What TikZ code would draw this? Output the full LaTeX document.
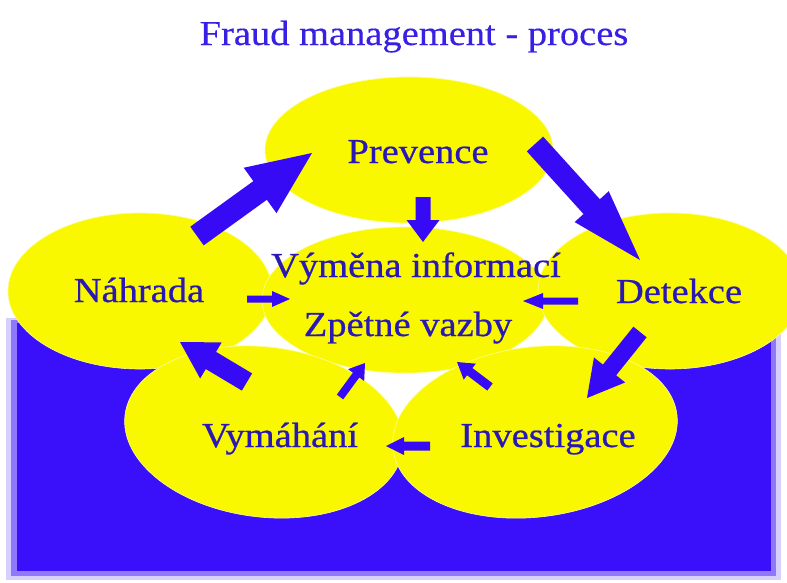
\documentclass[tikz,border=0pt]{standalone}
\usepackage{fontspec}
\setmainfont{Liberation Serif}
\newfontfamily\widefont[FakeStretch=1.1,FakeBold=0.6]{Liberation Serif}
\newfontfamily\titlefont[FakeStretch=1.1,FakeBold=0.3]{Liberation Serif}
\usetikzlibrary{calc}
\definecolor{bgblue}{RGB}{58,16,250}
\definecolor{arrblue}{RGB}{55,10,245}
\definecolor{yel}{RGB}{250,248,0}
\definecolor{edgeyel}{RGB}{252,252,150}
\definecolor{txtblue}{RGB}{42,24,180}
\definecolor{ttlblue}{RGB}{55,32,228}
\newcommand\blockarr[5]{%
  \coordinate (bah) at ($(#2)!#5!(#1)$);
  \fill[arrblue] ($(#1)!#3!90:(#2)$) -- ($(bah)!#3!90:(#2)$) -- ($(bah)!#4!90:(#2)$) -- (#2)
    -- ($(bah)!#4!-90:(#2)$) -- ($(bah)!#3!-90:(#2)$) -- ($(#1)!#3!-90:(#2)$) -- cycle;}
\tikzset{
  lbl/.style={text=txtblue, font=\widefont\fontsize{35}{40}\selectfont, anchor=base, inner sep=0pt},
  ttl/.style={text=ttlblue, font=\titlefont\fontsize{35}{40}\selectfont, anchor=base, inner sep=0pt},
  blob/.style={fill=yel, draw=edgeyel, line width=0.6pt}
}
\begin{document}
\begin{tikzpicture}[x=1pt,y=1pt]
\useasboundingbox (0,0) rectangle (787,-582);
\fill[white] (0,0) rectangle (787,-582);
% blue ground with soft edge
\fill[bgblue, opacity=0.2] (6,-318) rectangle (781,-580);
\fill[bgblue, opacity=0.45] (11,-320) rectangle (776,-576);
\fill[bgblue] (17,-323) rectangle (771,-571);
% white inner gaps
\fill[white] (175,-305) -- (290,-410) -- (400,-455) -- (510,-410) -- (635,-305) -- (405,-200) -- cycle;
% ellipses
\path[blob] (409,-150) ellipse [x radius=144pt, y radius=73pt];
\path[blob] (140,-291) ellipse [x radius=132pt, y radius=78pt];
\path[blob] (405,-300) ellipse [x radius=143pt, y radius=73pt];
\path[blob] (670,-291) ellipse [x radius=132pt, y radius=78pt];
\path[blob, rotate around={-7:(264,-432)}] (264,-432) ellipse [x radius=140pt, y radius=85pt];
\path[blob, rotate around={7:(535,-432)}] (535,-432) ellipse [x radius=143pt, y radius=85pt];
% title and labels
\node[ttl] (title) at (414,-45) {Fraud management - proces};
\node[lbl] (prev) at (418,-163) {Prevence};
\node[lbl] (vym) at (416,-277) {Výměna informací};
\node[lbl] (zpet) at (408,-336) {Zpětné vazby};
\node[lbl] (nahr) at (139,-302) {Náhrada};
\node[lbl] (det) at (679,-303) {Detekce};
\node[lbl] (vymah) at (280,-447) {Vymáhání};
\node[lbl] (inv) at (548,-447) {Investigace};
% arrow end points
\coordinate (a1t) at (197,-236); \coordinate (a1h) at (312,-153);
\coordinate (a2t) at (535,-144); \coordinate (a2h) at (640,-260);
\coordinate (a3t) at (423,-197); \coordinate (a3h) at (423,-242);
\coordinate (a4t) at (247,-299); \coordinate (a4h) at (290,-299);
\coordinate (a5t) at (578,-301); \coordinate (a5h) at (523,-301);
\coordinate (a6t) at (640,-332); \coordinate (a6h) at (587,-398);
\coordinate (a7t) at (430,-446); \coordinate (a7h) at (386,-446);
\coordinate (a8t) at (247,-382); \coordinate (a8h) at (180,-342);
\coordinate (a9t) at (340,-397); \coordinate (a9h) at (365,-363);
\coordinate (a10t) at (490,-387); \coordinate (a10h) at (457,-362);
\blockarr{a1t}{a1h}{11.5pt}{28pt}{64pt}
\blockarr{a2t}{a2h}{11pt}{23pt}{72pt}
\blockarr{a3t}{a3h}{7.5pt}{16.5pt}{22pt}
\blockarr{a4t}{a4h}{3.5pt}{8pt}{18pt}
\blockarr{a5t}{a5h}{3.5pt}{8pt}{20pt}
\blockarr{a6t}{a6h}{8.5pt}{20pt}{36pt}
\blockarr{a7t}{a7h}{4.5pt}{9pt}{18pt}
\blockarr{a8t}{a8h}{10pt}{21pt}{36pt}
\blockarr{a9t}{a9h}{4pt}{10pt}{15pt}
\blockarr{a10t}{a10h}{4.5pt}{10pt}{16pt}
\end{tikzpicture}
\end{document}
